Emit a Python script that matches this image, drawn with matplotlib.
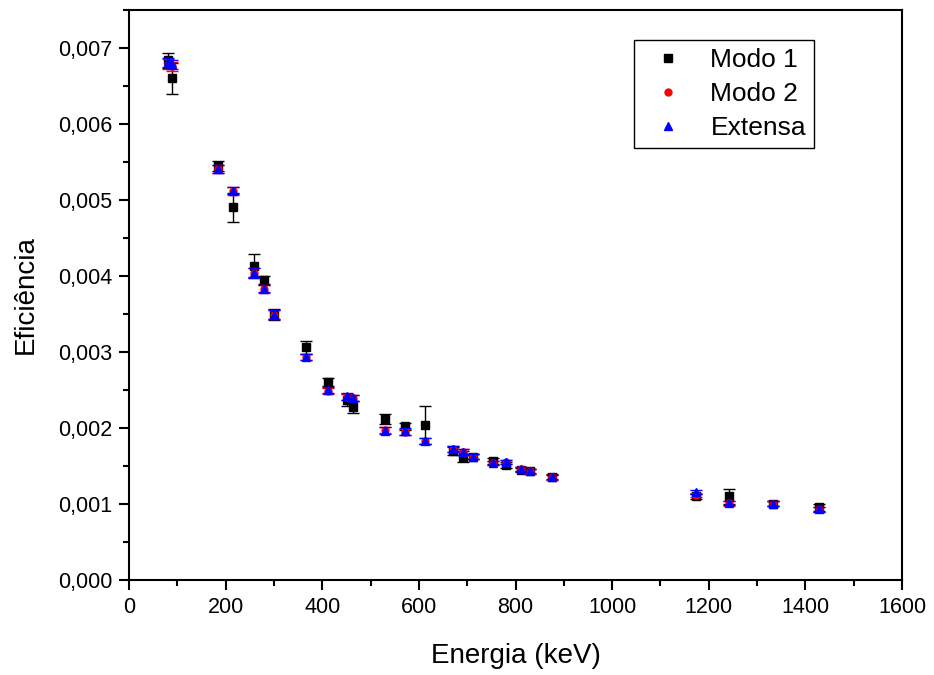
import matplotlib
matplotlib.use("Agg")
import matplotlib.pyplot as plt
from matplotlib.ticker import MultipleLocator, FuncFormatter

plt.rcParams['font.family'] = ['Liberation Sans', 'DejaVu Sans']

# energias (keV)
energia = [80, 88, 184, 215, 259, 280, 301, 366, 411, 452, 464, 530, 571, 612,
           671, 692, 713, 753, 780, 811, 831, 876, 1174, 1242, 1333, 1428]

# Modo 1
ef_modo1 = [0.00684, 0.00660, 0.005445, 0.004905, 0.004137, 0.00395, 0.00349,
            0.00306, 0.002605, 0.00237, 0.00228, 0.00212, 0.00202, 0.00204,
            0.00170, 0.001625, 0.001625, 0.001565, 0.00151, 0.00145, 0.00143,
            0.00135, 0.00110, 0.00110, 0.001005, 0.000955]
err_modo1 = [0.00010, 0.00020, 0.00007, 0.00019, 0.00015, 0.00005, 0.00007,
             0.00008, 0.00005, 0.00008, 0.00008, 0.00007, 0.00005, 0.00025,
             0.00005, 0.00007, 0.00003, 0.00004, 0.00004, 0.00003, 0.00003,
             0.00004, 0.00003, 0.00010, 0.00003, 0.00005]

# Modo 2
ef_modo2 = [0.00679, 0.00676, 0.00541, 0.00512, 0.00404, 0.00383, 0.00349,
            0.00293, 0.00249, 0.00241, 0.00239, 0.00197, 0.00195, 0.00183,
            0.00172, 0.00168, 0.001625, 0.00154, 0.00155, 0.00146, 0.00143,
            0.00135, 0.00112, 0.00101, 0.001005, 0.00093]
err_modo2 = [0.00006, 0.00006, 0.00005, 0.00005, 0.00006, 0.00005, 0.00006,
             0.00004, 0.00004, 0.00004, 0.00004, 0.00004, 0.00004, 0.00004,
             0.00004, 0.00004, 0.00003, 0.00003, 0.00003, 0.00003, 0.00003,
             0.00003, 0.00003, 0.00003, 0.00003, 0.00003]

# Extensa
ef_extensa = [0.00681, 0.006785, 0.00541, 0.005125, 0.00404, 0.003835, 0.00349,
              0.002934, 0.002494, 0.002415, 0.002394, 0.001967, 0.001954, 0.001831,
              0.001722, 0.001686, 0.001625, 0.001538, 0.001555, 0.001458, 0.001432,
              0.001353, 0.001159, 0.001014, 0.001005, 0.000931]
err_extensa = [0.00006, 0.00006, 0.00005, 0.00005, 0.00007, 0.00005, 0.00006,
               0.00004, 0.00004, 0.00004, 0.00004, 0.00004, 0.00004, 0.00004,
               0.00004, 0.00004, 0.00003, 0.00003, 0.00003, 0.00003, 0.00003,
               0.00003, 0.00003, 0.00003, 0.00003, 0.00003]

fig = plt.figure(figsize=(9.34, 6.75), dpi=100)
ax = fig.add_axes([129 / 934, 95 / 675, 773 / 934, 570 / 675])

series = [
    (ef_modo1, err_modo1, 's', 'black', 'Modo 1', 5.5),
    (ef_modo2, err_modo2, 'o', 'red', 'Modo 2', 5),
    (ef_extensa, err_extensa, '^', 'blue', 'Extensa', 6),
]
for ef, err, mk, cor, nome, ms in series:
    ax.errorbar(energia, ef, yerr=err, fmt='none', ecolor=cor, elinewidth=1,
                capsize=4, capthick=1)
    ax.plot(energia, ef, linestyle='none', marker=mk, color=cor,
            markersize=ms, label=nome)

ax.set_xlim(0, 1600)
ax.set_ylim(0, 0.0075)
ax.xaxis.set_major_locator(MultipleLocator(200))
ax.xaxis.set_minor_locator(MultipleLocator(100))
ax.yaxis.set_major_locator(MultipleLocator(0.001))
ax.yaxis.set_minor_locator(MultipleLocator(0.0005))
ax.yaxis.set_major_formatter(FuncFormatter(lambda v, p: f'{v:.3f}'.replace('.', ',')))

ax.tick_params(which='major', direction='out', length=7, width=1.5,
               labelsize=15.5, pad=5)
ax.tick_params(which='minor', direction='out', length=4, width=1.5)
for s in ax.spines.values():
    s.set_linewidth(1.5)

ax.set_xlabel('Energia (keV)', fontsize=20, labelpad=18)
ax.set_ylabel('Eficiência', fontsize=20, labelpad=14)

leg = ax.legend(loc='upper right', bbox_to_anchor=((814 - 129) / 773, (580 - 40) / 570),
                borderaxespad=0, fontsize=19, fancybox=False, framealpha=1,
                edgecolor='black', handletextpad=0.6, labelspacing=0.38,
                borderpad=0.3, markerscale=1.0)
leg.get_frame().set_linewidth(1)

fig.savefig('out.png', dpi=100)
